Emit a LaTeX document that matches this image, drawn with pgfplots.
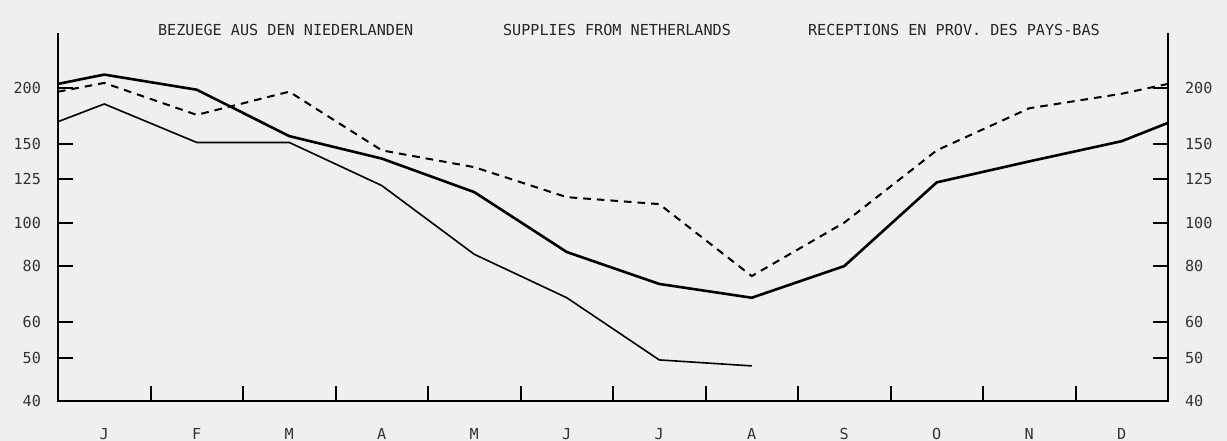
\documentclass[border=0pt]{standalone}
\usepackage{fontspec}
\setmonofont{DejaVu Sans Mono}
\usepackage{pgfplots}
\pgfplotsset{compat=1.18}
\definecolor{bg}{HTML}{EFEFEF}
\definecolor{thin}{HTML}{5E5E5E}
\newcommand{\lf}{\ttfamily\fontsize{7.6}{8}\selectfont}

\pgfplotstableread{
x    solid  dashed
0.5  204    196
1    214    205
2    198    174
3    156    196
4    139    145
5    117    133
6    86     114
7    73     110
8    68     76
9    80     100
10   123    145
11   137    180
12   152    194
12.5 167    204
}\mainT
\pgfplotstableread{
x    thin
0.5  168
1    184
2    151
3    151
4    121
5    85
6    68
7    49.4
8    47.9
}\thinT

\begin{document}
\begin{tikzpicture}
\fill[bg] (-29bp,-20bp) rectangle (584.5bp,200.5bp);
\begin{axis}[
  at={(0,0)}, anchor=south west,
  scale only axis, width=555bp, height=184bp,
  xmin=0.5, xmax=12.5, ymode=log, ymin=40, ymax=265,
  axis line style={draw=none},
  xtick={1,...,12}, xticklabels={J,F,M,A,M,J,J,A,S,O,N,D},
  minor xtick={1.5,2.5,...,11.5},
  xtick pos=bottom, ytick pos=both,
  major x tick style={draw=none},
  tick align=inside,
  major tick length=7.5bp, minor tick length=7.5bp,
  tick style={line width=1bp, black},
  ytick={40,50,60,80,100,125,150,200},
  yticklabels={40,50,60,80,100,125,150,200},
  log ticks with fixed point,
  /pgf/number format/assume math mode=true,
  ticklabel style={font=\lf, text=black!80},
  yticklabel style={xshift=-5bp},
  xticklabel style={yshift=-10bp},
  clip=false,
]
\draw[line width=1bp] (rel axis cs:0,1) -- (rel axis cs:0,0) -- (rel axis cs:1,0) -- (rel axis cs:1,1);
\addplot[thin, line width=0.8bp] table[x=x,y=thin] {\thinT};
\addplot[black, line width=1bp, dash pattern=on 3.8bp off 3bp] table[x=x,y=dashed] {\mainT};
\addplot[black, line width=1.3bp] table[x=x,y=solid] {\mainT};
\end{axis}
\begin{axis}[
  at={(0,0)}, anchor=south west,
  scale only axis, width=555bp, height=184bp,
  xmin=0.5, xmax=12.5, ymode=log, ymin=40, ymax=265,
  axis line style={draw=none},
  hide x axis,
  ytick={40,50,60,80,100,125,150,200},
  yticklabels={40,50,60,80,100,125,150,200},
  yticklabel pos=right,
  major tick length=0pt,
  /pgf/number format/assume math mode=true,
  ticklabel style={font=\lf, text=black!80},
  yticklabel style={xshift=5bp},
]
\end{axis}
\node[anchor=west, font=\lf, text=black!85] at (46.5bp,185.5bp) {BEZUEGE AUS DEN NIEDERLANDEN};
\node[anchor=west, font=\lf, text=black!85] at (219bp,185.5bp) {SUPPLIES FROM NETHERLANDS};
\node[anchor=west, font=\lf, text=black!85] at (371.5bp,185.5bp) {RECEPTIONS EN PROV. DES PAYS-BAS};
\pgfresetboundingbox
\path[use as bounding box] (-29bp,-20bp) rectangle (584.5bp,200.5bp);
\end{tikzpicture}
\end{document}
